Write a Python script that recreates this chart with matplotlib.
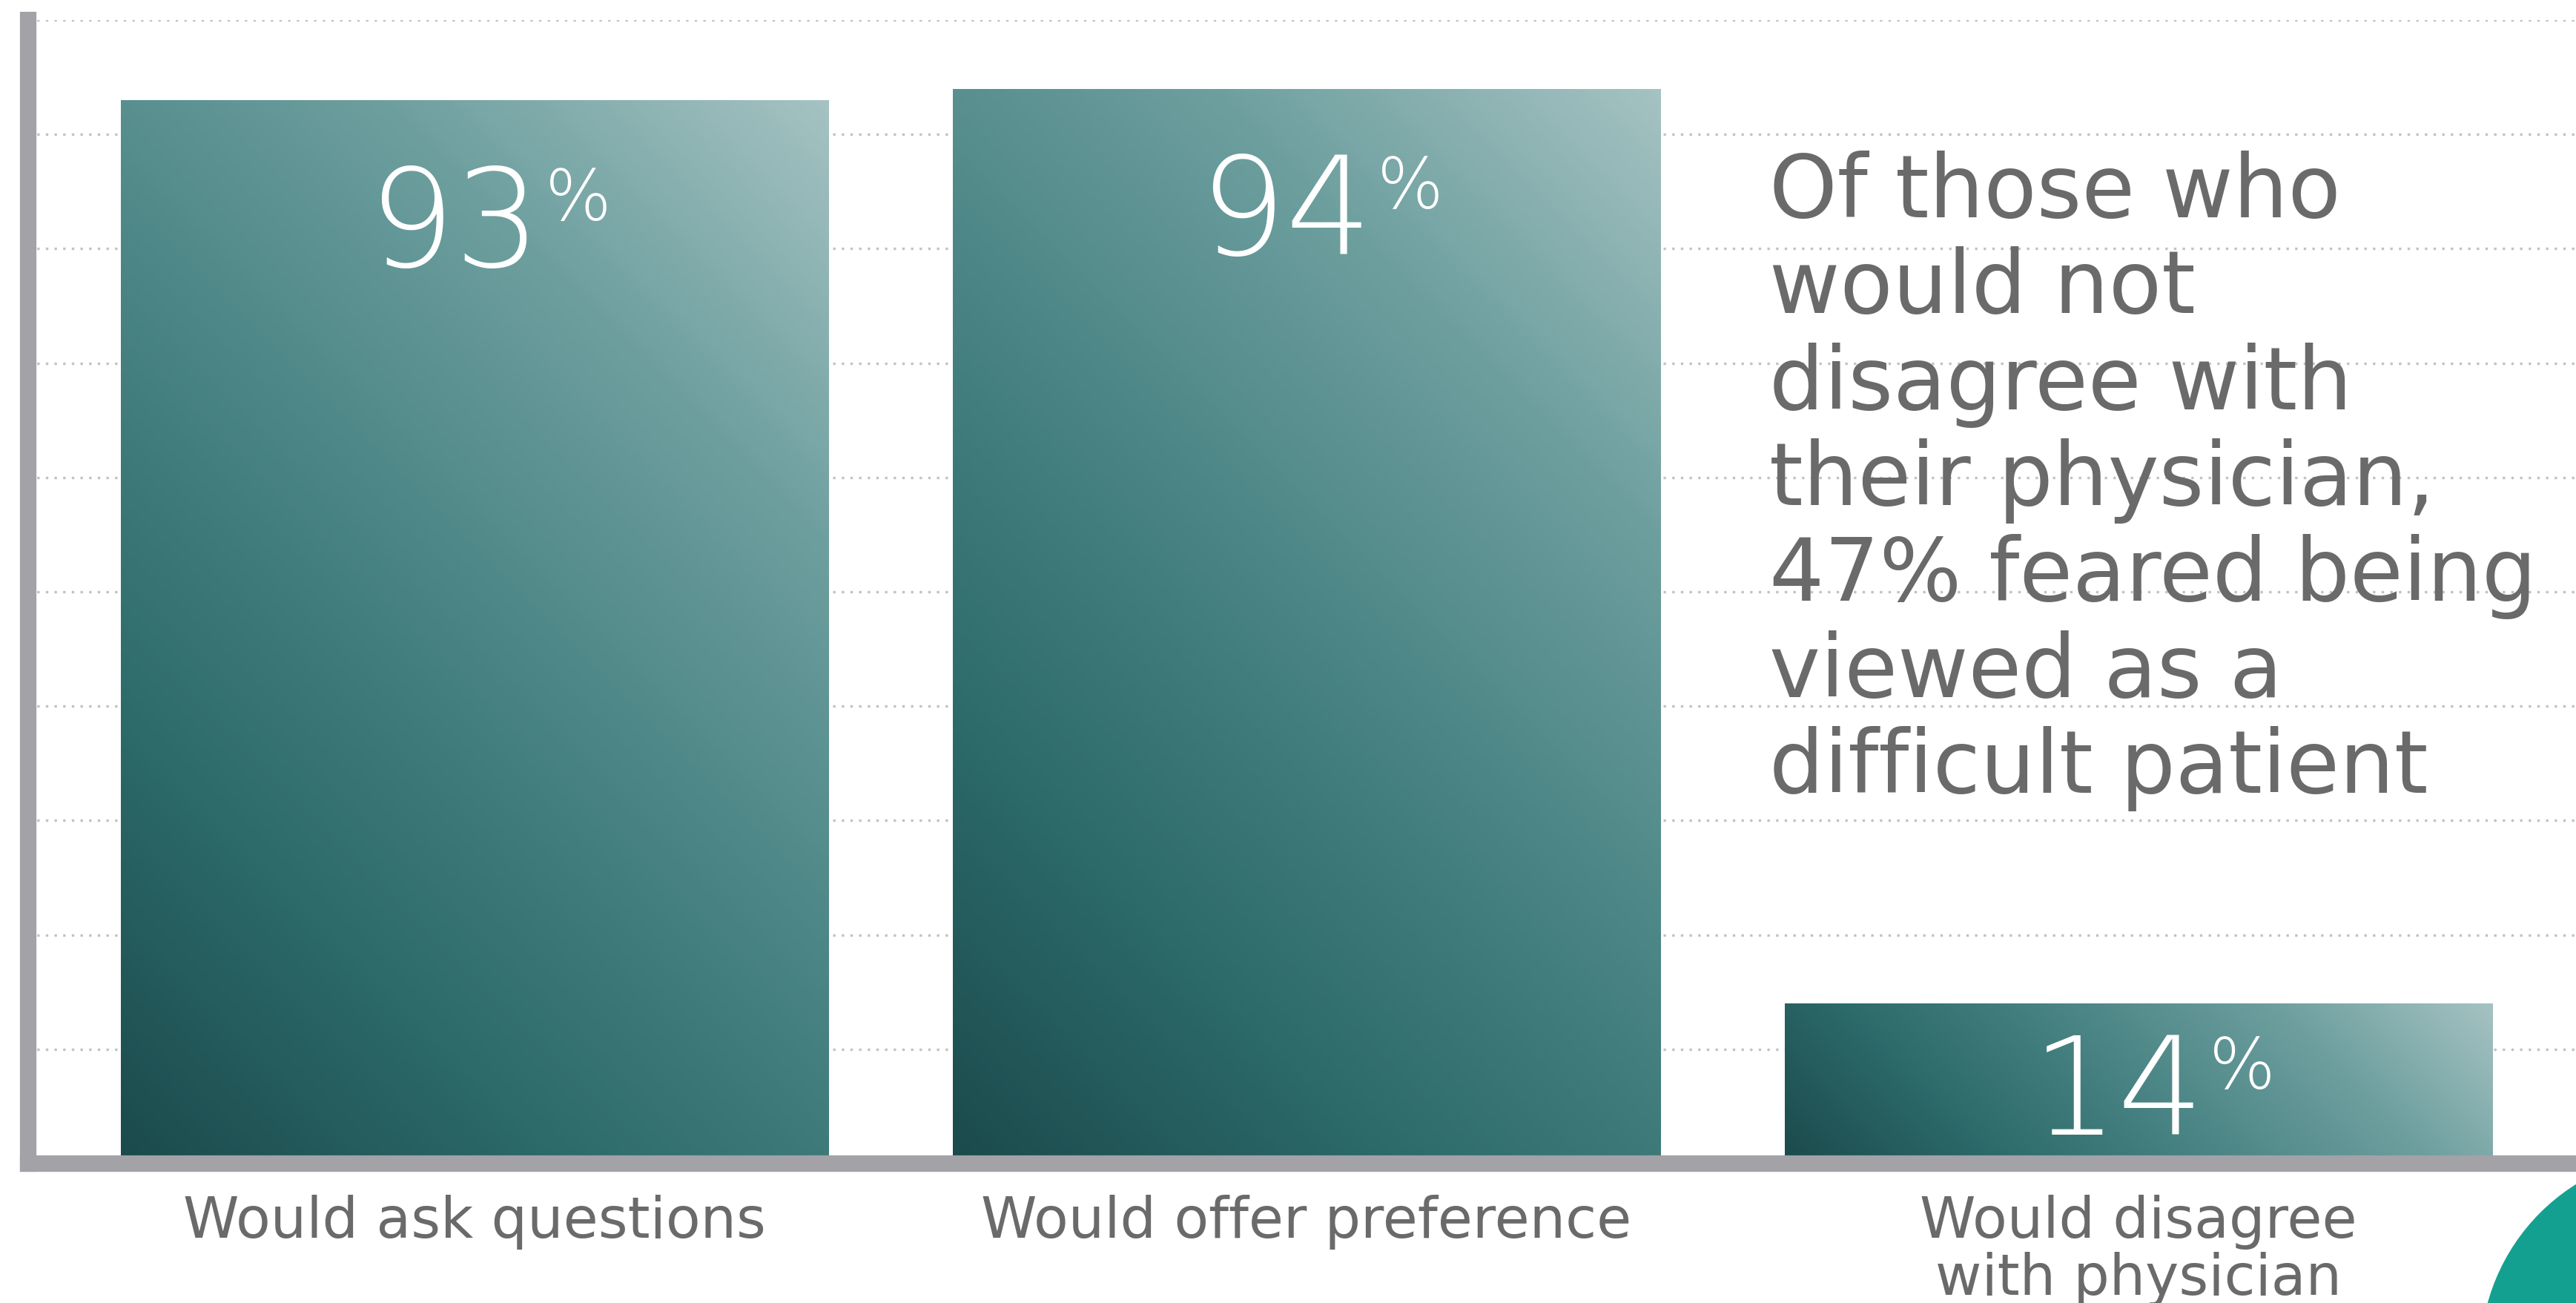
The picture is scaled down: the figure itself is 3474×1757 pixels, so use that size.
import numpy as np
import matplotlib
matplotlib.use('Agg')
import matplotlib.pyplot as plt
from matplotlib.colors import LinearSegmentedColormap
from matplotlib.patches import Ellipse
from matplotlib.transforms import ScaledTranslation

# Datos del gráfico
categorias = ['Would ask questions', 'Would offer preference', 'Would disagree\nwith physician']
valores = [93, 94, 14]
nota = ('Of those who\nwould not\ndisagree with\ntheir physician,\n'
        '47% feared being\nviewed as a\ndifficult patient')

gris_texto = '#6a6a6a'
cmap = LinearSegmentedColormap.from_list(
    'teal', ['#1b4a4c', '#2d6a6a', '#4a8484', '#6e9f9f', '#a5c2c2'])

fig = plt.figure(figsize=(17.37, 8.785), dpi=200)
ax = fig.add_axes([0.0109, 0.107, 0.9891, 0.8776])

ancho = 0.851
barras = ax.bar(range(len(valores)), valores, width=ancho, color='none', edgecolor='none')

ax.set_xlim(-0.537, 2.526)
ax.set_ylim(0, 100)

# Degradado diagonal (de abajo-izquierda a arriba-derecha) dentro de cada barra
u, v = np.meshgrid(np.linspace(0, 1, 200), np.linspace(0, 1, 200))
for b in barras:
    x0, h = b.get_x(), b.get_height()
    # peso de cada dirección según el tamaño de la barra en píxeles
    p0 = ax.transData.transform((x0, 0))
    p1 = ax.transData.transform((x0 + b.get_width(), h))
    W, H = abs(p1[0] - p0[0]), abs(p1[1] - p0[1])
    grad = (u * W + v * H) / (W + H)
    im = ax.imshow(grad, cmap=cmap, origin='lower', aspect='auto', vmin=0, vmax=1,
                   extent=(x0, x0 + b.get_width(), 0, h), zorder=1)
    im.set_clip_path(b)

ax.set_xlim(-0.537, 2.526)
ax.set_ylim(0, 100)

# Ejes y cuadrícula
for lado in ['top', 'right']:
    ax.spines[lado].set_visible(False)
for lado in ['left', 'bottom']:
    ax.spines[lado].set_color('#a2a2a7')
    ax.spines[lado].set_linewidth(8.0)
    ax.spines[lado].set_zorder(3)
ax.set_yticks(range(10, 101, 10))
ax.set_yticklabels([])
ax.tick_params(axis='y', length=0)
ax.grid(axis='y', color='#c2c2c2', linestyle=(0, (1, 2.5)), linewidth=1.2, zorder=0)
ax.set_axisbelow(True)

ax.set_xticks(range(len(categorias)))
ax.set_xticklabels(categorias, fontsize=27.5, color=gris_texto, linespacing=1.05)
ax.tick_params(axis='x', length=0, pad=15)

# Etiquetas de porcentaje (número + % en superíndice)
fig.canvas.draw()
r = fig.canvas.get_renderer()
for i, val in enumerate(valores):
    if val > 50:
        yb = val - 14.5
    else:
        yb = val / 2 - 4.5
    t_num = ax.text(i, yb, str(val), fontsize=66, color='white', fontweight='light',
                    ha='left', va='baseline', zorder=4)
    t_pct = ax.text(i, yb, '%', fontsize=34, color='white', fontweight='light',
                    ha='left', va='baseline', zorder=4)
    wn = t_num.get_window_extent(r).width
    wp = t_pct.get_window_extent(r).width
    gap = 6
    total = wn + gap + wp
    dx0 = (-total / 2 + 20) / fig.dpi
    t_num.set_transform(ax.transData + ScaledTranslation(dx0, 0, fig.dpi_scale_trans))
    t_pct.set_transform(ax.transData + ScaledTranslation(dx0 + (wn + gap) / fig.dpi,
                                                         62 / fig.dpi, fig.dpi_scale_trans))

# Nota a la derecha
ax.text(1.556, 88.6, nota, fontsize=42, color=gris_texto, ha='left', va='top',
        linespacing=1.16, zorder=4)

# Forma decorativa en la esquina inferior derecha
fig.patches.append(Ellipse((1.042, -0.0415), 0.1583, 0.313, transform=fig.transFigure,
                           facecolor='#14a091', edgecolor='none'))
fig.patches.append(Ellipse((1.07, -0.08), 0.12, 0.24, transform=fig.transFigure,
                           facecolor='#1f3b3c', edgecolor='none', alpha=0.6))

fig.savefig('out.png', dpi=200)
